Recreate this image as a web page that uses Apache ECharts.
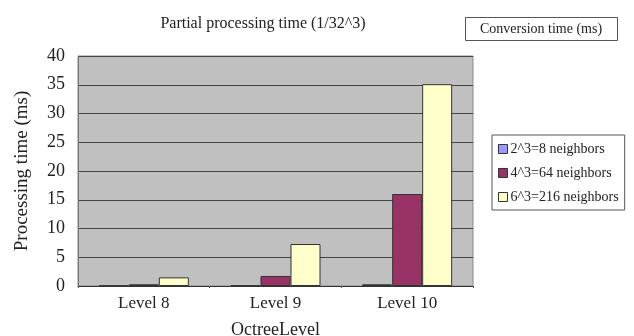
<!DOCTYPE html>
<html>
<head>
<meta charset="utf-8">
<script src="https://cdn.jsdelivr.net/npm/echarts@6/dist/echarts.min.js"></script>
<style>
  html, body { margin: 0; padding: 0; background: #fff; }
  #chart { width: 634px; height: 336px; }
</style>
</head>
<body>
<div id="chart"></div>
<script>
// Octree levels on the category axis
const levels = ['Level 8', 'Level 9', 'Level 10'];
// Processing time (ms) per neighbourhood size
const neighbors8 = [0.05, 0.1, 0.3];
const neighbors64 = [0.3, 1.75, 16.0];
const neighbors216 = [1.5, 7.3, 35.1];
const seriesNames = ['2^3=8 neighbors', '4^3=64 neighbors', '6^3=216 neighbors'];
const yTicks = { min: 0, max: 40, interval: 5 };

const FONT = '"Liberation Serif", "DejaVu Serif", serif';
const TXT = '#222';

const chart = echarts.init(document.getElementById('chart'), null, { renderer: 'canvas' });

function bar(name, data, color) {
  return {
    name: name,
    type: 'bar',
    data: data,
    barWidth: 30,
    barGap: '0%',
    itemStyle: { color: color, borderColor: '#333', borderWidth: 1 },
    emphasis: { disabled: true }
  };
}

chart.setOption({
  animation: false,
  backgroundColor: '#fff',
  title: [
    {
      text: 'Partial processing time (1/32^3)',
      left: 258, top: 11, textAlign: 'center',
      textStyle: { fontFamily: FONT, fontSize: 16, fontWeight: 'normal', color: TXT }
    },
    {
      text: 'Conversion time (ms)',
      left: 465, top: 17,
      borderColor: '#555', borderWidth: 1,
      padding: [5, 16, 5, 15],
      textStyle: { fontFamily: FONT, fontSize: 14, fontWeight: 'normal', color: TXT }
    }
  ],
  legend: {
    orient: 'vertical',
    left: 492, top: 135,
    width: 135,
    padding: [7, 6, 6, 6],
    itemWidth: 9, itemHeight: 9, itemGap: 10,
    borderColor: '#555', borderWidth: 1,
    icon: 'rect',
    itemStyle: { borderColor: '#333', borderWidth: 1 },
    textStyle: { fontFamily: FONT, fontSize: 14, color: TXT, padding: [0, 0, 0, -2] },
    data: seriesNames
  },
  grid: {
    left: 78, top: 56, right: 634 - 473, bottom: 336 - 286,
    containLabel: false,
    outerBoundsMode: 'none',
    show: true, backgroundColor: '#C0C0C0', borderColor: '#8a8a8a', borderWidth: 1
  },
  xAxis: {
    type: 'category',
    data: levels,
    name: 'OctreeLevel',
    nameLocation: 'middle', nameGap: 35,
    nameTextStyle: { fontFamily: FONT, fontSize: 18, color: TXT },
    axisLine: { show: true, lineStyle: { color: '#333', width: 1 } },
    axisTick: { show: true, length: 2, lineStyle: { color: '#555' } },
    axisLabel: { fontFamily: FONT, fontSize: 17, color: TXT, margin: 9 }
  },
  yAxis: {
    type: 'value',
    min: yTicks.min, max: yTicks.max, interval: yTicks.interval,
    name: 'Processing time (ms)',
    nameLocation: 'middle', nameGap: 46,
    nameTextStyle: { fontFamily: FONT, fontSize: 19, color: TXT },
    axisLine: { show: true, lineStyle: { color: '#777' } },
    axisTick: { show: false },
    axisLabel: { fontFamily: FONT, fontSize: 18, color: TXT, margin: 13 },
    splitLine: { show: true, lineStyle: { color: '#444', width: 1 } }
  },
  series: [
    bar(seriesNames[0], neighbors8, '#9999FF'),
    bar(seriesNames[1], neighbors64, '#993366'),
    bar(seriesNames[2], neighbors216, '#FFFFCC')
  ]
});
</script>
</body>
</html>
